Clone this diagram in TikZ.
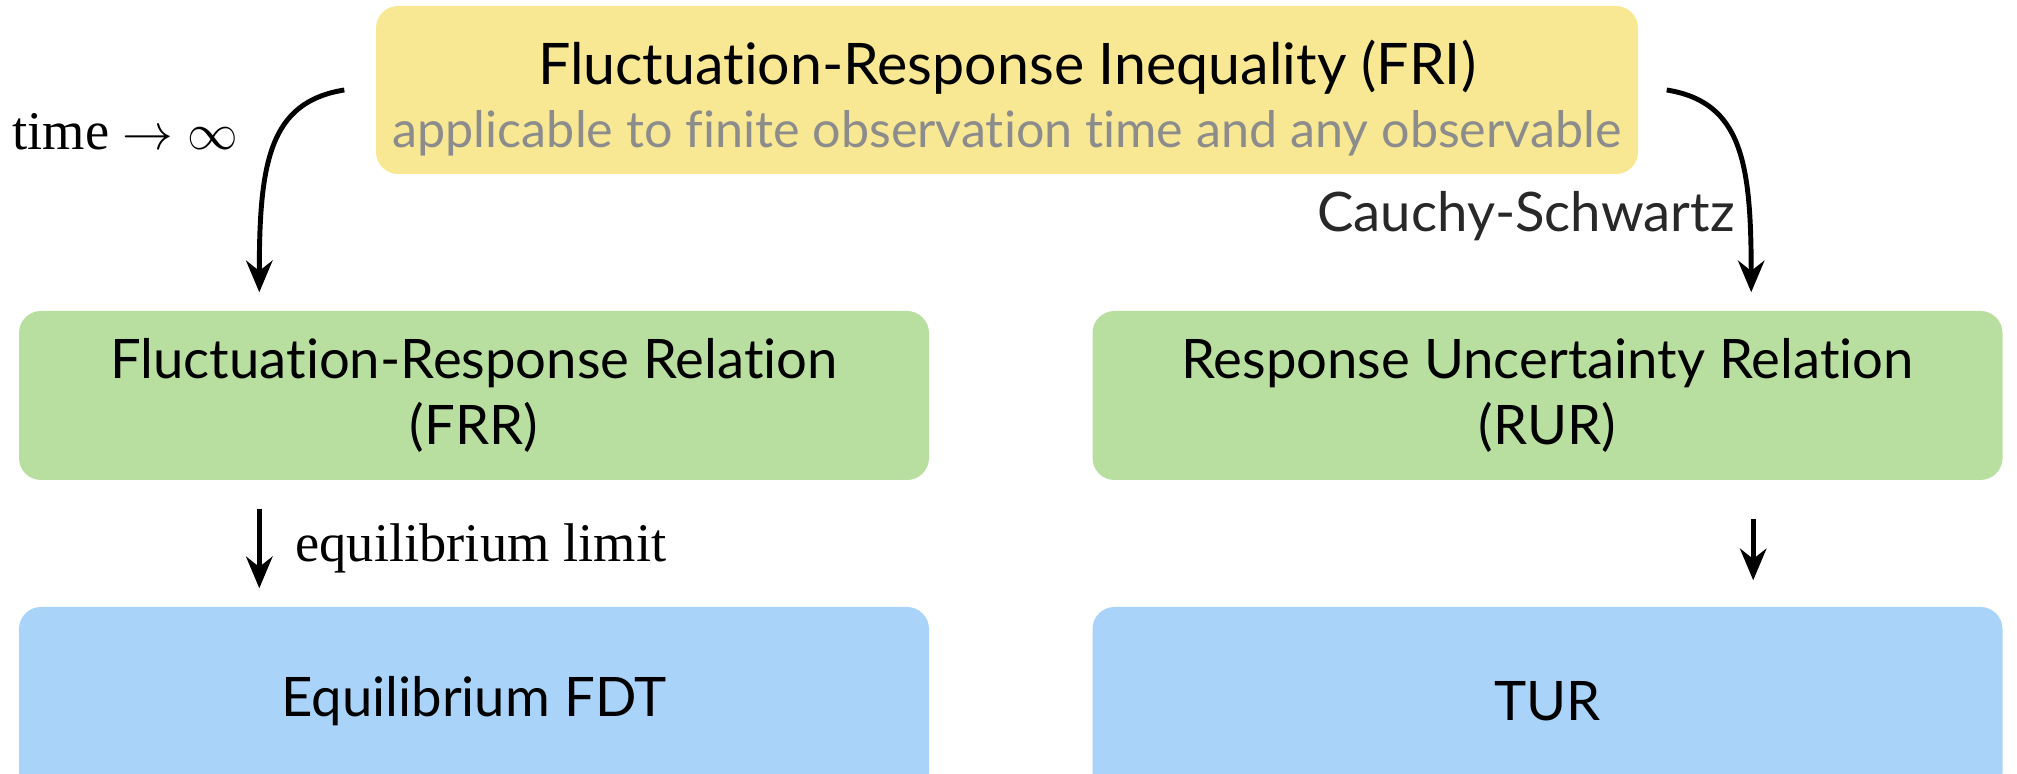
\documentclass[tikz,border=0pt]{standalone}
\usepackage{fontspec}
\setmainfont{Lato}[Ligatures=NoCommon]
\newfontfamily\timesfont{Liberation Serif}
\usetikzlibrary{arrows.meta, positioning, calc}

\definecolor{FriYellow}{RGB}{248, 232, 148}
\definecolor{RelGreen}{RGB}{184, 223, 160}
\definecolor{ThmBlue}{RGB}{170, 211, 250}
\definecolor{NoteGray}{RGB}{140, 140, 140}
\definecolor{LabelDark}{RGB}{40, 40, 40}

\begin{document}
\begin{tikzpicture}[
    box/.style={rounded corners=0.22cm, align=center, inner sep=0pt,
        minimum width=9.1cm, minimum height=1.69cm,
        font=\fontsize{15.5}{19}\selectfont},
    arr/.style={line width=1.4pt, -{Stealth[length=9pt, width=7.5pt]}}
]
    \useasboundingbox (0,0) rectangle (20.17,7.74);

    % Inequality on top
    \node[box, fill=FriYellow, minimum width=12.62cm, minimum height=1.68cm] (fri) at (10.07,6.84)
        {\rule{0pt}{0.6cm}{\fontsize{16.3}{20}\selectfont Fluctuation-Response Inequality (FRI)}\\[-1pt]
         {\color{NoteGray}\fontsize{14.3}{18}\selectfont applicable to finite observation time and any observable}};

    % Relations
    \node[box, fill=RelGreen] (frr) at (4.74,3.785) {Fluctuation-Response Relation\\(FRR)};
    \node[box, fill=RelGreen] (rur) at (15.475,3.785) {Response Uncertainty Relation\\(RUR)};

    % Consequences
    \node[box, fill=ThmBlue, minimum height=1.88cm] (fdt) at (4.74,0.73) {Equilibrium FDT};
    \node[box, fill=ThmBlue, minimum height=1.88cm] (tur) at (15.475,0.73) {TUR};

    % Arrows
    \draw[arr] ([xshift=-3.1mm]fri.west) .. controls +(-0.75,-0.12) and +(0,1.3) ..
        ([xshift=2.41cm, yshift=1.8mm]frr.north west);
    \draw[arr] ([xshift=2.8mm]fri.east) .. controls +(0.75,-0.12) and +(0,1.3) ..
        ([xshift=-2.52cm, yshift=1.8mm]rur.north east);
    \draw[arr] ([xshift=2.41cm, yshift=-2.8mm]frr.south west) --
        node[right=2.2mm, font=\timesfont\fontsize{15.5}{19}\selectfont] (eqlim) {equilibrium limit}
        ([xshift=2.41cm, yshift=1.8mm]fdt.north west);
    \draw[arr] ([xshift=-2.5cm, yshift=-3.8mm]rur.south east) --
        ([xshift=-2.5cm, yshift=2.6mm]tur.north east);

    % Arrow labels
    \node[font=\timesfont\fontsize{15.5}{19}\selectfont] (tlim) at (1.25,6.42) {time $\rightarrow$ $\infty$};
    \node[font=\fontsize{15.5}{19}\selectfont, text=LabelDark] (cs) at (15.26,5.58) {Cauchy-Schwartz};
\end{tikzpicture}
\end{document}
